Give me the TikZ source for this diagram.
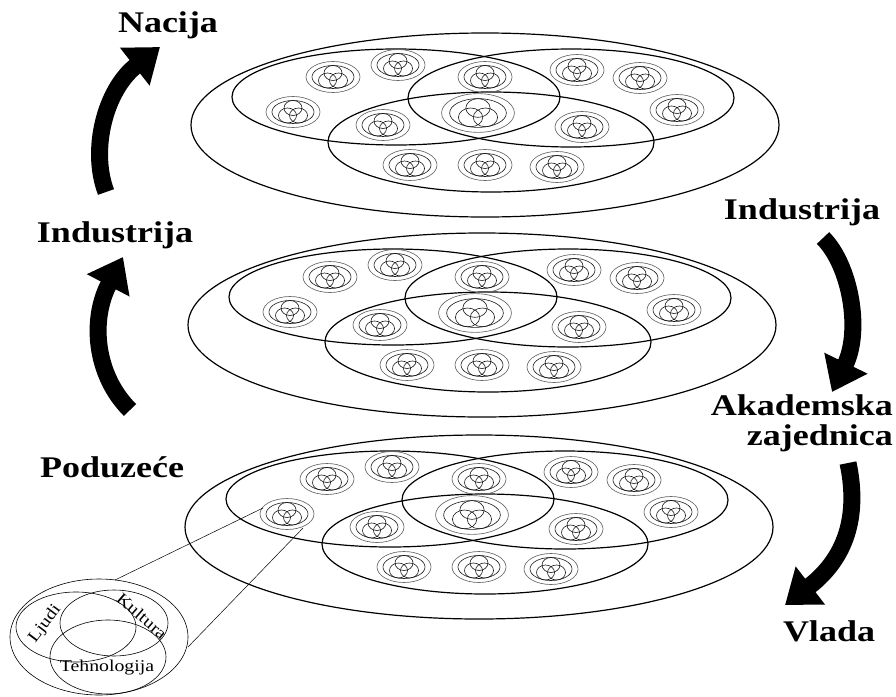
\documentclass[tikz,border=0pt]{standalone}
\usepackage{fontspec}
\setmainfont{Liberation Serif}[FakeStretch=1.2]
\usetikzlibrary{arrows.meta}

\begin{document}
\begin{tikzpicture}[x=1pt,y=-1pt,
  layer/.style={line width=1.2pt},
  ring/.style={black!60,line width=0.65pt},
  dot/.style={black!90,line width=0.6pt},
  thinl/.style={line width=0.6pt},
  flow/.style={line width=17pt,-{Triangle[length=32pt,width=46pt]}},
  lbl/.style={inner sep=0pt,font=\fontsize{30}{30}\selectfont\bfseries},
  tag/.style={inner sep=0pt,font=\fontsize{16.5}{18}\selectfont},
  icon/.pic={
    \draw[ring] (0,0) ellipse [x radius=27,y radius=15.5];
    \draw[dot] (0,0) ellipse [x radius=21,y radius=11.5];
    \draw[dot] (0,-4) ellipse [x radius=9,y radius=7.5];
    \draw[dot] (-5.5,3.5) ellipse [x radius=9,y radius=7.5];
    \draw[dot] (5.5,3.5) ellipse [x radius=9,y radius=7.5];
  }]
\useasboundingbox (0,0) rectangle (896,696);

% three layers
\foreach \cx/\cy in {485/125, 482/325, 479/527} {
  \begin{scope}[shift={(\cx,\cy)}]
    \draw[layer] (0,0) ellipse [x radius=294,y radius=92];
    \draw[layer] (-89,-28) ellipse [x radius=164,y radius=48];
    \draw[layer] (86,-27) ellipse [x radius=163,y radius=49];
    \draw[layer] (6,17) ellipse [x radius=163,y radius=50];
    \foreach \ix/\iy in {-152/-48, -87/-60, 0/-48, 92/-55, 155/-47,
                         -192/-13, -102/0, 97/2, 192/-15,
                         -75/40, 0/40, 72/42}
      \pic at (\ix,\iy) {icon};
    \pic[xscale=1.35,yscale=1.25] at (-7,-12) {icon};
  \end{scope}
}

% zoomed icon
\draw[thinl] (99,637) ellipse [x radius=89,y radius=58];
\draw[thinl] (76,627) ellipse [x radius=60,y radius=35];
\draw[thinl] (114,623) ellipse [x radius=54,y radius=33];
\draw[thinl] (108,657) ellipse [x radius=58,y radius=37];
\node[tag,rotate=53] (ljudi) at (45,624) {Ljudi};
\node[tag,rotate=-41] (kultura) at (142,616) {Kultura};
\node[tag] (tehno) at (107,668) {Tehnologija};

\coordinate (srcA) at (263,508);
\coordinate (srcB) at (303,528);
\coordinate (zoomA) at (115,580);
\coordinate (zoomB) at (188,647);
\draw[line width=0.5pt] (srcA) -- (zoomA);
\draw[line width=0.5pt] (srcB) -- (zoomB);

% labels
\node[lbl,anchor=base] (nacija) at (168,32) {Nacija};
\node[lbl,anchor=base] (industL) at (115,242) {Industrija};
\node[lbl,anchor=base] (poduzece) at (112,477) {Poduzeće};
\node[lbl,anchor=base] (industR) at (802,219) {Industrija};
\node[lbl,anchor=east,align=right] (akad) at (893,423) {Akademska\\zajednica};
\node[lbl,anchor=base] (vlada) at (829,641) {Vlada};

% arrows
\coordinate (l1a) at (130,410);
\coordinate (l1b) at (123,257);
\coordinate (l2a) at (106,192);
\coordinate (l2b) at (160,47);
\coordinate (r1a) at (823,238);
\coordinate (r1b) at (832,392);
\coordinate (r2a) at (848,463);
\coordinate (r2b) at (785,605);
\draw[flow] (l1a) .. controls (95,375) and (90,320) .. (l1b);
\draw[flow] (l2a) .. controls (90,150) and (105,90) .. (l2b);
\draw[flow] (r1a) .. controls (850,265) and (862,330) .. (r1b);
\draw[flow] (r2a) .. controls (858,510) and (850,555) .. (r2b);
\end{tikzpicture}
\end{document}
